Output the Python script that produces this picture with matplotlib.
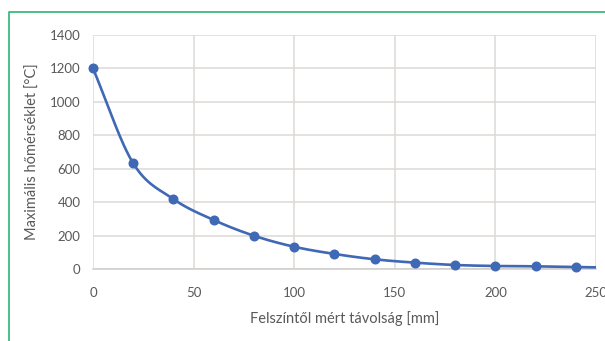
import numpy as np
import matplotlib
matplotlib.use("Agg")
import matplotlib.pyplot as plt
from matplotlib.lines import Line2D

# Data
distance_mm = [0, 20, 40, 60, 80, 100, 120, 140, 160, 180, 200, 220, 240, 250]
max_temp_c = [1200, 632, 418, 293, 199, 133, 90, 58, 38, 24, 18, 16, 11, 10]
x_ticks = [0, 50, 100, 150, 200, 250]
y_ticks = [0, 200, 400, 600, 800, 1000, 1200, 1400]
x_label = "Felszíntől mért távolság [mm]"
y_label = "Maximális hőmérséklet [°C]"

def smooth(x, y, n=30):
    # Catmull-Rom style smoothing for display (like Excel's smoothed line)
    x = np.asarray(x, float); y = np.asarray(y, float)
    px = np.concatenate([[2*x[0]-x[1]], x, [2*x[-1]-x[-2]]])
    py = np.concatenate([[2*y[0]-y[1]], y, [2*y[-1]-y[-2]]])
    xs, ys = [], []
    for i in range(1, len(px)-2):
        t = np.linspace(0, 1, n, endpoint=False)
        for arr, out in ((px, xs), (py, ys)):
            p0, p1, p2, p3 = arr[i-1], arr[i], arr[i+1], arr[i+2]
            out.extend(0.5*((2*p1) + (-p0+p2)*t + (2*p0-5*p1+4*p2-p3)*t**2 + (-p0+3*p1-3*p2+p3)*t**3))
    xs.append(x[-1]); ys.append(y[-1])
    return np.array(xs), np.array(ys)

plt.rcParams['font.family'] = ['Lato', 'DejaVu Sans']
fig = plt.figure(figsize=(6.05, 3.41), dpi=100)
ax = fig.add_axes([93/605, 1-269/341, (596-93)/605, (269-35)/341])

blue = '#3f68b5'
sx, sy = smooth(distance_mm, max_temp_c)
ax.plot(sx, sy, color=blue, lw=1.9, solid_capstyle='round', zorder=3)
ax.plot(distance_mm[:-1], max_temp_c[:-1], 'o', color=blue, ms=6.2, zorder=4, clip_on=False)

ax.set_xlim(0, 250)
ax.set_ylim(0, 1400)
ax.set_xticks(x_ticks)
ax.set_yticks(y_ticks)
ax.grid(True, color='#dcd8d6', lw=1.1)
ax.set_axisbelow(True)
for s in ['top', 'right', 'left']:
    ax.spines[s].set_visible(False)
ax.spines['bottom'].set_color('#d0cccb')
ax.spines['bottom'].set_linewidth(1.1)
ax.tick_params(length=0, labelsize=9.5, labelcolor='#595959')
ax.tick_params(axis='x', pad=13)
ax.tick_params(axis='y', pad=9)
ax.set_xlabel(x_label, fontsize=10.5, color='#595959', labelpad=9)
ax.set_ylabel(y_label, fontsize=10.5, color='#595959', labelpad=7)

green = '#3dba7e'
fig.add_artist(Line2D([9/605, 9/605, 1.0], [0, 1-12/341, 1-12/341],
                      transform=fig.transFigure, color=green, lw=1.3))

fig.savefig('out.png', dpi=100)
